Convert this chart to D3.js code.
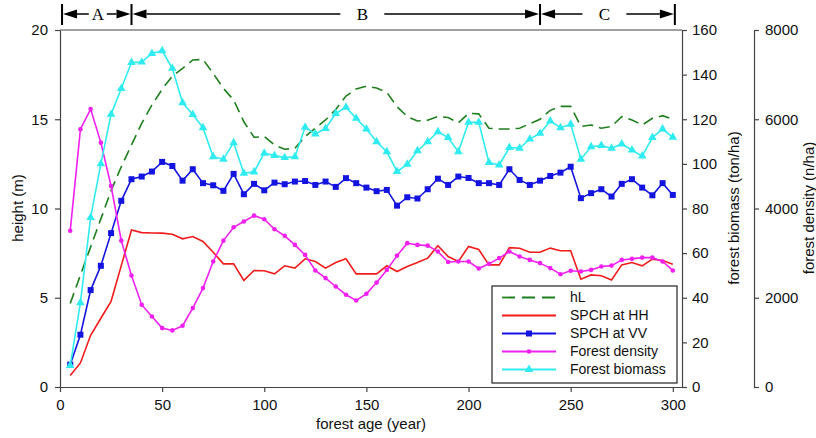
<!DOCTYPE html>
<html>
<head>
<meta charset="UTF-8" />
<title>Forest height, biomass and density vs age</title>
<script src="https://d3js.org/d3.v7.min.js"></script>
<style>
  body {
    margin: 0;
    background: #ffffff;
    font-family: Arial, "Liberation Sans", sans-serif;
  }
  svg { display: block; }
  .axis path, .axis line { stroke: #444; stroke-width: 1.2; }
  .axis text { font-size: 15px; fill: #111; font-family: Arial, "Liberation Sans", sans-serif; }
  .title { font-size: 15px; fill: #111; }
  .legend text { font-size: 14px; fill: #111; }
</style>
</head>
<body>
<svg id="chart"></svg>
<script>
  // forest age (year), one sample every 5 years
  const ages = [5, 10, 15, 20, 25, 30, 35, 40, 45, 50, 55, 60, 65, 70, 75, 80, 85, 90, 95, 100,
                105, 110, 115, 120, 125, 130, 135, 140, 145, 150, 155, 160, 165, 170, 175, 180, 185, 190, 195, 200,
                205, 210, 215, 220, 225, 230, 235, 240, 245, 250, 255, 260, 265, 270, 275, 280, 285, 290, 295, 300];

  // height (m)
  const hL = [4.68, 6.27, 7.85, 9.42, 11.0, 12.34, 13.56, 14.77, 15.8, 16.68, 17.42, 17.85, 18.32, 18.35, 17.57, 16.73, 16.08, 14.86, 13.99, 14.03,
              13.56, 13.32, 13.37, 14.03, 14.5, 14.96, 15.55, 16.3, 16.7, 16.85, 16.75, 16.5, 15.7, 15.15, 14.9, 14.95, 15.15, 15.1, 14.8, 15.33,
              15.3, 14.5, 14.45, 14.45, 14.5, 14.75, 15.0, 15.5, 15.72, 15.72, 14.6, 14.68, 14.5, 14.6, 15.15, 14.96, 14.68, 15.05, 15.2, 15.0];

  const spchHH = [0.65, 1.35, 2.9, 3.85, 4.8, 6.8, 8.8, 8.65, 8.63, 8.62, 8.56, 8.3, 8.43, 8.15, 7.55, 6.9, 6.9, 5.97, 6.53, 6.51,
                  6.34, 6.79, 6.66, 7.18, 7.03, 6.66, 6.97, 7.18, 6.34, 6.34, 6.34, 6.79, 6.47, 6.75, 6.97, 7.22, 7.92, 7.31, 7.03, 7.87,
                  7.7, 6.84, 6.84, 7.81, 7.77, 7.55, 7.55, 7.78, 7.63, 7.63, 6.04, 6.28, 6.23, 6.0, 6.84, 6.97, 6.79, 7.16, 7.09, 6.88];

  const spchVV = [1.25, 2.93, 5.43, 6.79, 8.62, 10.43, 11.64, 11.79, 12.07, 12.61, 12.38, 11.56, 12.2, 11.42, 11.3, 10.99, 11.94, 10.8, 11.38, 11.02,
                  11.45, 11.36, 11.51, 11.54, 11.32, 11.51, 11.21, 11.7, 11.42, 11.17, 10.97, 11.04, 10.16, 10.63, 10.56, 11.08, 11.67, 11.32, 11.79, 11.71,
                  11.42, 11.42, 11.32, 12.2, 11.6, 11.32, 11.56, 11.82, 12.01, 12.34, 10.58, 10.86, 11.08, 10.67, 11.38, 11.64, 11.17, 10.74, 11.42, 10.76];

  // forest density (n/ha)
  const density = [3500, 5776, 6228, 5476, 4504, 3280, 2500, 1844, 1580, 1320, 1268, 1372, 1768, 2216, 2812, 3280, 3580, 3708, 3840, 3760,
                   3536, 3388, 3184, 2960, 2612, 2440, 2252, 2068, 1940, 2088, 2340, 2624, 2944, 3224, 3184, 3168, 3036, 2800, 2812, 2812,
                   2656, 2760, 2888, 3036, 2924, 2848, 2776, 2664, 2528, 2604, 2588, 2624, 2700, 2720, 2848, 2872, 2900, 2900, 2812, 2612];

  // forest biomass (ton/ha)
  const biomass = [9.6, 37.8, 76, 100, 122.2, 133.8, 145.4, 145.6, 149.5, 150.7, 142.8, 127.4, 122.1, 116.2, 103.2, 102.1, 109.5, 95.8, 96.4, 104.8,
                   103.7, 102.8, 103.2, 116.4, 113.4, 115.9, 122.6, 125.4, 120.4, 115.6, 109.9, 105.4, 96.6, 99.8, 105.9, 109.9, 114.4, 111.8, 105.4, 118.6,
                   118.6, 100.6, 99.5, 107.3, 107, 111.1, 113.7, 119.2, 116.2, 117.8, 102.1, 107.7, 108.2, 107, 108.9, 106.2, 103.5, 111.8, 115.6, 111.9];

  const ageTicks = [0, 50, 100, 150, 200, 250, 300];
  const heightTicks = [0, 5, 10, 15, 20];
  const biomassTicks = [0, 20, 40, 60, 80, 100, 120, 140, 160];
  const densityTicks = [0, 2000, 4000, 6000, 8000];

  // growth phases across the top
  const phaseNames = ["A", "B", "C"];
  const phaseBounds = [1, 35, 235, 301];
  const phaseLabelAge = [18.5, 148, 266.5];

  const width = 816, height = 438;
  const svg = d3.select("#chart").attr("width", width).attr("height", height);

  const x = d3.scaleLinear().domain([0, 304.5]).range([60, 682]);
  const yH = d3.scaleLinear().domain([0, 20]).range([387, 30]);
  const yB = d3.scaleLinear().domain([0, 160]).range([387, 30]);
  const yD = d3.scaleLinear().domain([0, 8000]).range([387, 30]);

  // frame top line
  svg.append("line")
    .attr("x1", 60).attr("x2", 682).attr("y1", 30).attr("y2", 30)
    .attr("stroke", "#444").attr("stroke-width", 1.2);

  svg.append("g").attr("class", "axis")
    .attr("transform", "translate(60,0)")
    .call(d3.axisLeft(yH).tickValues(heightTicks).tickSize(5).tickSizeOuter(0).tickPadding(7));

  svg.append("g").attr("class", "axis")
    .attr("transform", "translate(0,387)")
    .call(d3.axisBottom(x).tickValues(ageTicks).tickSize(5).tickSizeOuter(0).tickPadding(7));

  svg.append("g").attr("class", "axis")
    .attr("transform", "translate(682,0)")
    .call(d3.axisRight(yB).tickValues(biomassTicks).tickSize(5).tickSizeOuter(0).tickPadding(5));

  svg.append("g").attr("class", "axis")
    .attr("transform", "translate(754,0)")
    .call(d3.axisRight(yD).tickValues(densityTicks).tickFormat(d3.format("d"))
      .tickSize(5).tickSizeOuter(0).tickPadding(6));

  // axis titles
  svg.append("text").attr("class", "title")
    .attr("transform", "translate(23,208) rotate(-90)")
    .attr("text-anchor", "middle").text("height (m)");
  svg.append("text").attr("class", "title")
    .attr("transform", "translate(739,208) rotate(-90)")
    .attr("text-anchor", "middle").text("forest biomass (ton/ha)");
  // sits against the right edge, as in the source figure
  svg.append("text").attr("class", "title")
    .attr("transform", "translate(814,208) rotate(-90)")
    .attr("text-anchor", "middle").text("forest density (n/ha)");
  svg.append("text").attr("class", "title")
    .attr("x", 371).attr("y", 429)
    .attr("text-anchor", "middle").text("forest age (year)");

  // phase band
  const band = svg.append("g");
  const bandY = 14;
  phaseBounds.forEach(b => {
    band.append("line")
      .attr("x1", x(b)).attr("x2", x(b)).attr("y1", 4).attr("y2", 25)
      .attr("stroke", "#000").attr("stroke-width", 2);
  });
  phaseNames.forEach((name, i) => {
    const x0 = x(phaseBounds[i]) + 1, x1 = x(phaseBounds[i + 1]) - 1;
    const mx = x(phaseLabelAge[i]);
    const gap = (x1 - x0) < 100 ? 9 : 22;
    band.append("path")
      .attr("d", `M${x0},${bandY}L${x0 + 14},${bandY - 4.5}L${x0 + 14},${bandY + 4.5}Z`)
      .attr("fill", "#000");
    band.append("path")
      .attr("d", `M${x1},${bandY}L${x1 - 14},${bandY - 4.5}L${x1 - 14},${bandY + 4.5}Z`)
      .attr("fill", "#000");
    band.append("line")
      .attr("x1", x0 + 14).attr("x2", mx - gap).attr("y1", bandY).attr("y2", bandY)
      .attr("stroke", "#000").attr("stroke-width", 1.5);
    band.append("line")
      .attr("x1", mx + gap).attr("x2", x1 - 14).attr("y1", bandY).attr("y2", bandY)
      .attr("stroke", "#000").attr("stroke-width", 1.5);
    band.append("text")
      .attr("x", mx).attr("y", 19.5)
      .attr("text-anchor", "middle")
      .style("font-family", "'Liberation Serif', 'Times New Roman', serif")
      .style("font-size", "17px")
      .text(name);
  });

  const series = [
    { name: "hL", values: hL, y: yH, color: "#1f7f1f", dash: "11,6", marker: null },
    { name: "SPCH at HH", values: spchHH, y: yH, color: "#f01c1c", dash: null, marker: null },
    { name: "SPCH at VV", values: spchVV, y: yH, color: "#1414e0", dash: null, marker: "square" },
    { name: "Forest density", values: density, y: yD, color: "#f020f0", dash: null, marker: "circle" },
    { name: "Forest biomass", values: biomass, y: yB, color: "#30ecf0", dash: null, marker: "triangle" }
  ];

  const tri = d3.symbol().type(d3.symbolTriangle).size(32);

  function drawMarker(g, type, cx, cy, color) {
    if (type === "square") {
      g.append("rect").attr("x", cx - 3).attr("y", cy - 3).attr("width", 6).attr("height", 6).attr("fill", color);
    } else if (type === "circle") {
      g.append("circle").attr("cx", cx).attr("cy", cy).attr("r", 2.3).attr("fill", color);
    } else if (type === "triangle") {
      g.append("path").attr("d", tri).attr("transform", `translate(${cx},${cy})`).attr("fill", color);
    }
  }

  series.forEach(s => {
    const line = d3.line().x((d, i) => x(ages[i])).y(d => s.y(d));
    svg.append("path")
      .datum(s.values)
      .attr("d", line)
      .attr("fill", "none")
      .attr("stroke", s.color)
      .attr("stroke-width", 1.6)
      .attr("stroke-dasharray", s.dash);
    if (s.marker) {
      const g = svg.append("g");
      s.values.forEach((v, i) => drawMarker(g, s.marker, x(ages[i]), s.y(v), s.color));
    }
  });

  // legend
  const legend = svg.append("g").attr("class", "legend");
  legend.append("rect")
    .attr("x", 492).attr("y", 286).attr("width", 185).attr("height", 97)
    .attr("fill", "#fff").attr("stroke", "#222").attr("stroke-width", 1.2);
  series.forEach((s, i) => {
    const ly = 297.5 + i * 18;
    legend.append("line")
      .attr("x1", 502).attr("x2", 556).attr("y1", ly).attr("y2", ly)
      .attr("stroke", s.color).attr("stroke-width", 1.8)
      .attr("stroke-dasharray", s.dash ? "13,7" : null);
    if (s.marker) drawMarker(legend, s.marker, 529, ly, s.color);
    legend.append("text")
      .attr("x", 570).attr("y", ly).attr("dy", "0.35em")
      .text(s.name);
  });
</script>
</body>
</html>
